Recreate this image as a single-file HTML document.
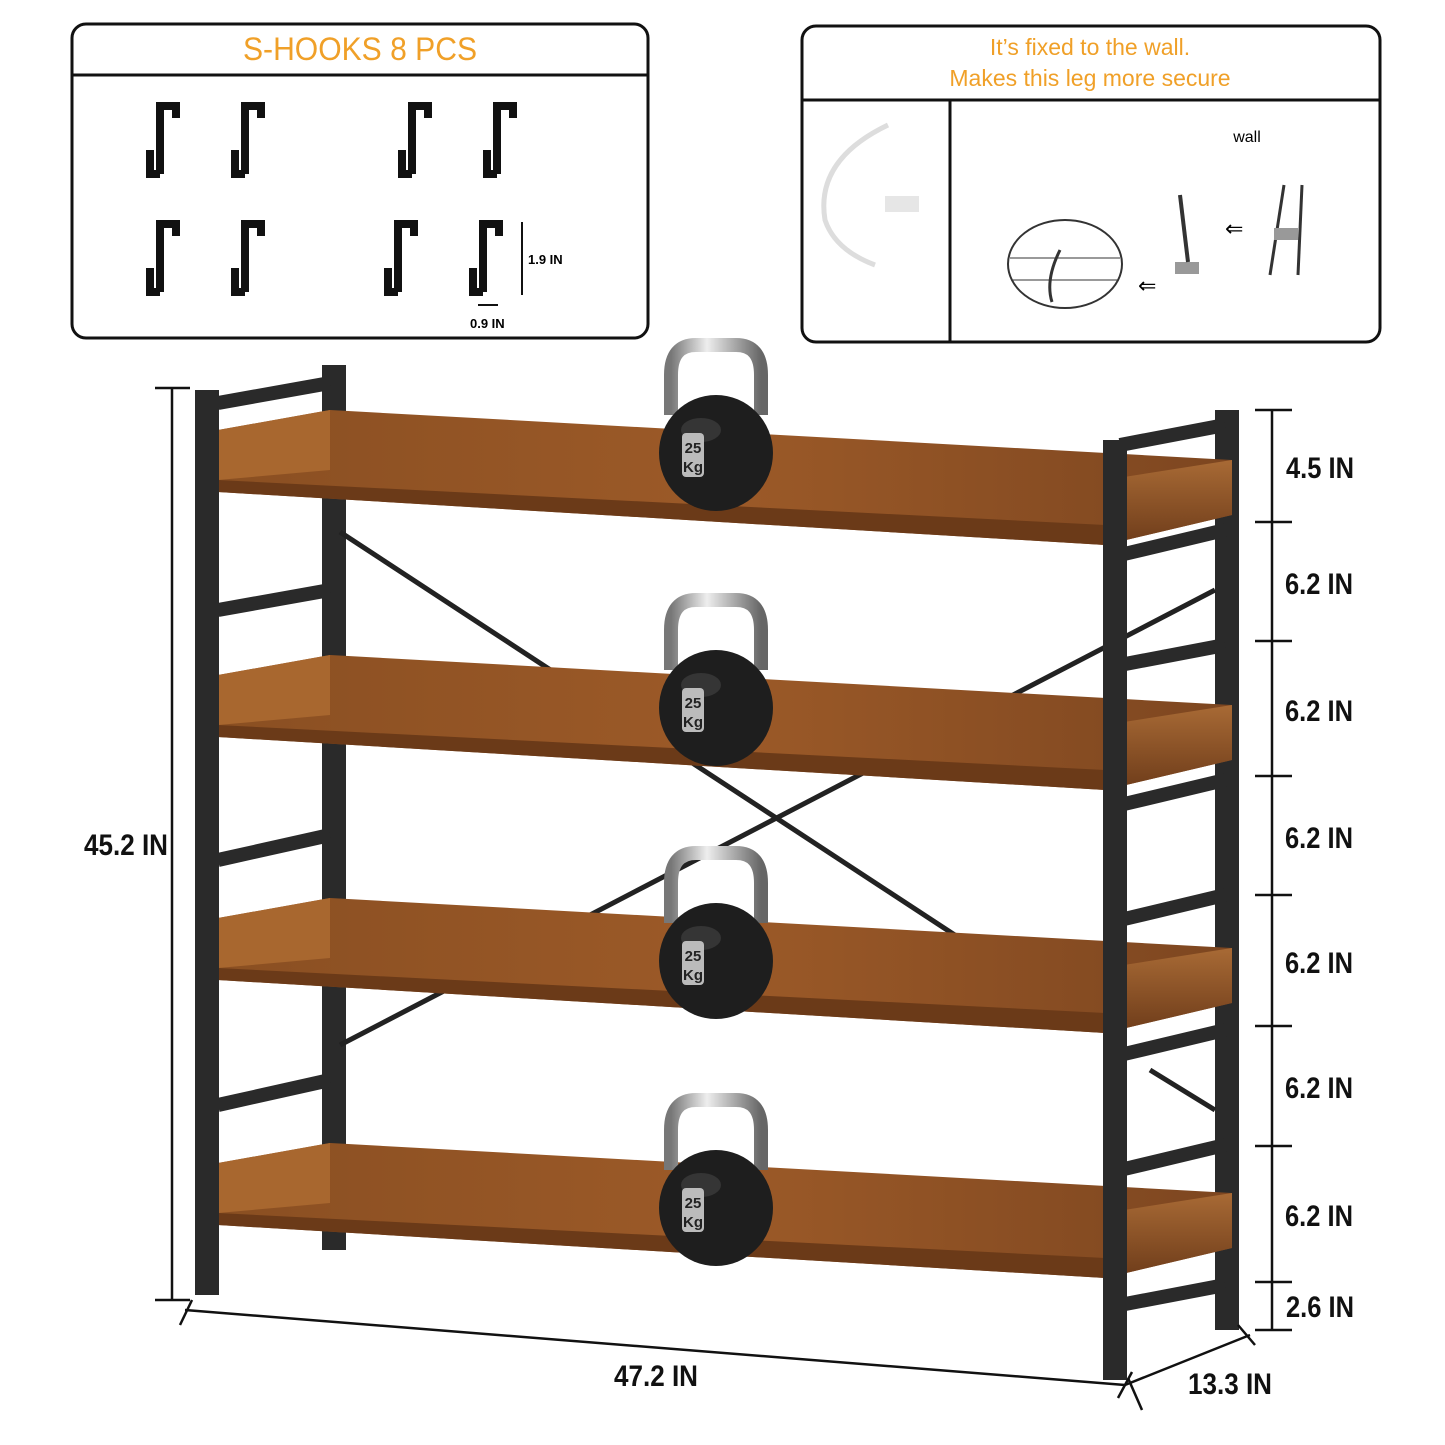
<!DOCTYPE html>
<html><head><meta charset="utf-8"><style>
html,body{margin:0;padding:0;background:#fff}
svg{display:block}
text{font-family:"Liberation Sans",sans-serif}
</style></head><body>
<svg width="1445" height="1445" viewBox="0 0 1445 1445" xmlns="http://www.w3.org/2000/svg">
<defs>
<linearGradient id="wood" x1="0" y1="0" x2="1" y2="0">
<stop offset="0" stop-color="#8a4f22"/><stop offset="0.5" stop-color="#9c5a28"/><stop offset="1" stop-color="#7d4620"/>
</linearGradient>
<linearGradient id="woodlip" x1="0" y1="0" x2="0" y2="1">
<stop offset="0" stop-color="#a86a35"/><stop offset="1" stop-color="#6e3c1a"/>
</linearGradient>
<linearGradient id="steel" x1="0" y1="0" x2="1" y2="0">
<stop offset="0" stop-color="#777"/><stop offset="0.4" stop-color="#eee"/><stop offset="1" stop-color="#666"/>
</linearGradient>
<g id="kb">
<path d="M-45,40 L-45,0 Q-45,-30 -20,-30 L20,-30 Q45,-30 45,0 L45,40" fill="none" stroke="url(#steel)" stroke-width="14"/>
<ellipse cx="0" cy="78" rx="57" ry="58" fill="#1e1e1e"/>
<ellipse cx="-15" cy="55" rx="20" ry="12" fill="#444" opacity="0.6"/>
<rect x="-34" y="58" width="22" height="44" rx="4" fill="#bbb"/>
<text x="-23" y="78" font-size="15" font-weight="bold" text-anchor="middle" fill="#222">25</text>
<text x="-23" y="97" font-size="15" font-weight="bold" text-anchor="middle" fill="#222">Kg</text>
</g>
<g id="shelf">
<polygon points="218,430 330,410 1232,460 1232,515 1105,545 218,492" fill="url(#wood)"/>
<polygon points="218,430 330,410 330,470 218,480" fill="#a8672f"/>
<polygon points="1105,480 1232,460 1232,515 1105,545" fill="url(#woodlip)"/>
<polygon points="218,480 1105,525 1105,545 218,492" fill="#6b3a18"/>
</g>
<g id="hook">
<path d="M0,2 L0,-66 L16,-66 L16,-54" fill="none" stroke="#111" stroke-width="8"/>
<path d="M0,2 L-10,2 L-10,-22" fill="none" stroke="#111" stroke-width="8"/>
</g>
</defs>

<rect x="72" y="24" width="576" height="314" rx="14" fill="#fff" stroke="#111" stroke-width="3"/>
<line x1="72" y1="75" x2="648" y2="75" stroke="#111" stroke-width="3"/>
<text x="360" y="60" font-size="32" fill="#f0a028" text-anchor="middle" textLength="234" lengthAdjust="spacingAndGlyphs">S-HOOKS 8 PCS</text>
<use href="#hook" x="160" y="172"/><use href="#hook" x="245" y="172"/><use href="#hook" x="412" y="172"/><use href="#hook" x="497" y="172"/>
<use href="#hook" x="160" y="290"/><use href="#hook" x="245" y="290"/><use href="#hook" x="398" y="290"/><use href="#hook" x="483" y="290"/>
<line x1="522" y1="222" x2="522" y2="295" stroke="#111" stroke-width="2"/>
<text x="528" y="264" font-size="13" font-weight="bold">1.9 IN</text>
<line x1="478" y1="305" x2="498" y2="305" stroke="#111" stroke-width="2"/>
<text x="470" y="328" font-size="13" font-weight="bold">0.9 IN</text>

<rect x="802" y="26" width="578" height="316" rx="14" fill="#fff" stroke="#111" stroke-width="3"/>
<line x1="802" y1="100" x2="1380" y2="100" stroke="#111" stroke-width="3"/>
<line x1="950" y1="100" x2="950" y2="342" stroke="#111" stroke-width="3"/>
<text x="1090" y="55" font-size="23" fill="#f0a028" text-anchor="middle">It’s fixed to the wall.</text>
<text x="1090" y="86" font-size="23" fill="#f0a028" text-anchor="middle">Makes this leg more secure</text>
<path d="M888,125 Q815,160 825,220 Q835,250 875,265" fill="none" stroke="#ddd" stroke-width="5"/>
<rect x="885" y="196" width="34" height="16" fill="#e6e6e6"/>
<text x="1247" y="142" font-size="16" text-anchor="middle">wall</text>
<ellipse cx="1065" cy="264" rx="57" ry="44" fill="none" stroke="#333" stroke-width="2"/>
<line x1="1010" y1="258" x2="1120" y2="258" stroke="#333"/><line x1="1012" y1="280" x2="1118" y2="280" stroke="#333"/>
<path d="M1060,250 Q1045,280 1052,302" stroke="#333" stroke-width="3" fill="none"/>
<rect x="1175" y="262" width="24" height="12" fill="#999"/>
<line x1="1180" y1="195" x2="1188" y2="262" stroke="#333" stroke-width="4"/>
<line x1="1284" y1="185" x2="1270" y2="275" stroke="#333" stroke-width="3"/>
<line x1="1302" y1="185" x2="1298" y2="275" stroke="#333" stroke-width="3"/>
<rect x="1274" y="228" width="24" height="12" fill="#999"/>
<text x="1225" y="236" font-size="22">⇐</text><text x="1138" y="293" font-size="22">⇐</text>

<rect x="322" y="365" width="24" height="885" fill="#2a2a2a"/>
<rect x="1215" y="410" width="24" height="920" fill="#2a2a2a"/>
<line x1="340" y1="532" x2="970" y2="945" stroke="#222" stroke-width="5"/>
<line x1="1215" y1="590" x2="340" y2="1045" stroke="#222" stroke-width="5"/>
<line x1="1150" y1="1070" x2="1215" y2="1110" stroke="#222" stroke-width="5"/>

<use href="#shelf"/>
<use href="#shelf" y="245"/>
<use href="#shelf" y="488"/>
<use href="#shelf" y="733"/>

<g stroke="#2a2a2a" stroke-width="14">
<line x1="218" y1="403" x2="330" y2="383"/><line x1="218" y1="610" x2="330" y2="590"/>
<line x1="218" y1="860" x2="330" y2="835"/><line x1="218" y1="1105" x2="330" y2="1080"/>
<line x1="1120" y1="445" x2="1225" y2="425"/><line x1="1120" y1="555" x2="1225" y2="530"/>
<line x1="1120" y1="665" x2="1225" y2="645"/><line x1="1120" y1="805" x2="1225" y2="780"/>
<line x1="1120" y1="920" x2="1225" y2="895"/><line x1="1120" y1="1055" x2="1225" y2="1030"/>
<line x1="1120" y1="1170" x2="1225" y2="1145"/><line x1="1120" y1="1305" x2="1225" y2="1285"/>
</g>
<rect x="195" y="390" width="24" height="905" fill="#2a2a2a"/>
<rect x="1103" y="440" width="24" height="940" fill="#2a2a2a"/>

<use href="#kb" x="716" y="375"/>
<use href="#kb" x="716" y="630"/>
<use href="#kb" x="716" y="883"/>
<use href="#kb" x="716" y="1130"/>

<g stroke="#111" stroke-width="2.5">
<line x1="172" y1="388" x2="172" y2="1300"/>
<line x1="155" y1="388" x2="190" y2="388"/><line x1="155" y1="1300" x2="190" y2="1300"/>
<line x1="1272" y1="410" x2="1272" y2="1330"/>
<line x1="1255" y1="410" x2="1292" y2="410"/><line x1="1255" y1="522" x2="1292" y2="522"/>
<line x1="1255" y1="641" x2="1292" y2="641"/><line x1="1255" y1="776" x2="1292" y2="776"/>
<line x1="1255" y1="895" x2="1292" y2="895"/><line x1="1255" y1="1026" x2="1292" y2="1026"/>
<line x1="1255" y1="1146" x2="1292" y2="1146"/><line x1="1255" y1="1282" x2="1292" y2="1282"/>
<line x1="1255" y1="1330" x2="1292" y2="1330"/>
<line x1="185" y1="1310" x2="1125" y2="1385"/>
<line x1="180" y1="1325" x2="192" y2="1300"/><line x1="1118" y1="1398" x2="1132" y2="1372"/>
<line x1="1125" y1="1385" x2="1250" y2="1335"/>
<line x1="1128" y1="1378" x2="1142" y2="1410"/><line x1="1238" y1="1325" x2="1255" y2="1345"/>
</g>
<g font-size="30" font-weight="bold" fill="#111" lengthAdjust="spacingAndGlyphs">
<text x="84" y="855" textLength="84" lengthAdjust="spacingAndGlyphs">45.2 IN</text>
<text x="1286" y="478" textLength="68" lengthAdjust="spacingAndGlyphs">4.5 IN</text>
<text x="1285" y="594" textLength="68" lengthAdjust="spacingAndGlyphs">6.2 IN</text>
<text x="1285" y="721" textLength="68" lengthAdjust="spacingAndGlyphs">6.2 IN</text>
<text x="1285" y="848" textLength="68" lengthAdjust="spacingAndGlyphs">6.2 IN</text>
<text x="1285" y="973" textLength="68" lengthAdjust="spacingAndGlyphs">6.2 IN</text>
<text x="1285" y="1098" textLength="68" lengthAdjust="spacingAndGlyphs">6.2 IN</text>
<text x="1285" y="1226" textLength="68" lengthAdjust="spacingAndGlyphs">6.2 IN</text>
<text x="1286" y="1317" textLength="68" lengthAdjust="spacingAndGlyphs">2.6 IN</text>
<text x="614" y="1386" textLength="84" lengthAdjust="spacingAndGlyphs">47.2 IN</text>
<text x="1188" y="1394" textLength="84" lengthAdjust="spacingAndGlyphs">13.3 IN</text>
</g>
</svg>
</body></html>
